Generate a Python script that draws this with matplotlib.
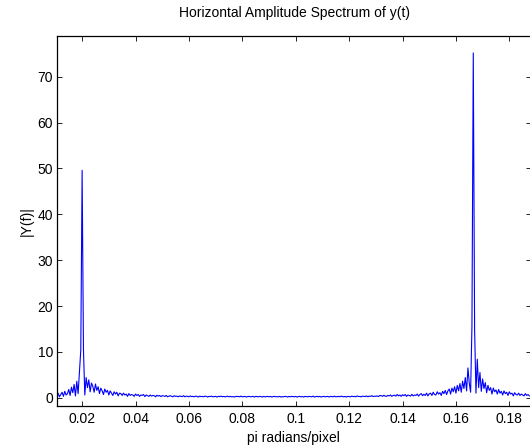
import numpy as np
import matplotlib
matplotlib.use('Agg')
import matplotlib.pyplot as plt

plt.rcParams['font.family'] = ['Liberation Sans', 'DejaVu Sans']

# frequency grid (pi radians/pixel), one sample every 0.0005
f_start = 0.0105
f_step = 0.0005

# |Y(f)|, 10 samples per row
amp = [
    0.4, 1.0, 0.2, 0.7, 1.2, 0.3, 1.4, 0.6, 0.9, 1.8,
    0.5, 2.3, 1.1, 2.9, 0.4, 3.6, 0.9, 5.6, 10.4, 49.6,
    10.5, 0.6, 4.4, 2.2, 3.9, 1.3, 3.2, 2.5, 1.2, 3.0,
    1.6, 2.4, 0.9, 2.1, 1.5, 0.7, 1.9, 1.2, 1.6, 0.6,
    1.5, 1.0, 0.5, 1.3, 0.8, 1.2, 0.4, 1.0, 0.9, 0.5,
    1.0, 0.6, 0.8, 0.3, 0.9, 0.5, 0.7, 0.6, 0.3, 0.8,
    0.5, 0.7, 0.3, 0.6, 0.5, 0.7, 0.25, 0.6, 0.45, 0.3,
    0.6, 0.35, 0.5, 0.45, 0.2, 0.55, 0.35, 0.5, 0.25, 0.45,
    0.4, 0.3, 0.5, 0.2, 0.35, 0.45, 0.3, 0.2, 0.45, 0.3,
    0.35, 0.2, 0.4, 0.3, 0.25, 0.45, 0.2, 0.35, 0.3, 0.2,
    0.4, 0.25, 0.3, 0.2, 0.35, 0.3, 0.15, 0.35, 0.25, 0.3,
    0.2, 0.35, 0.3, 0.15, 0.3, 0.25, 0.35, 0.2, 0.25, 0.3,
    0.15, 0.3, 0.25, 0.35, 0.2, 0.3, 0.2, 0.25, 0.35, 0.2,
    0.3, 0.2, 0.25, 0.15, 0.3, 0.25, 0.3, 0.2, 0.35, 0.2,
    0.25, 0.3, 0.15, 0.25, 0.3, 0.2, 0.25, 0.3, 0.15, 0.3,
    0.25, 0.2, 0.3, 0.25, 0.15, 0.3, 0.2, 0.25, 0.3, 0.2,
    0.3, 0.15, 0.25, 0.3, 0.2, 0.25, 0.2, 0.3, 0.15, 0.25,
    0.2, 0.3, 0.25, 0.15, 0.3, 0.2, 0.3, 0.25, 0.2, 0.3,
    0.15, 0.25, 0.3, 0.2, 0.25, 0.15, 0.3, 0.25, 0.2, 0.3,
    0.25, 0.2, 0.35, 0.15, 0.25, 0.3, 0.2, 0.3, 0.15, 0.25,
    0.3, 0.2, 0.25, 0.3, 0.15, 0.3, 0.25, 0.2, 0.35, 0.2,
    0.25, 0.3, 0.2, 0.35, 0.25, 0.2, 0.3, 0.15, 0.3, 0.25,
    0.2, 0.35, 0.25, 0.3, 0.2, 0.4, 0.25, 0.3, 0.2, 0.35,
    0.3, 0.25, 0.4, 0.2, 0.35, 0.3, 0.45, 0.25, 0.35, 0.3,
    0.4, 0.25, 0.5, 0.45, 0.3, 0.55, 0.35, 0.3, 0.5, 0.4,
    0.6, 0.3, 0.5, 0.55, 0.35, 0.7, 0.4, 0.6, 0.3, 0.65,
    0.45, 0.7, 0.3, 0.6, 0.5, 0.35, 0.75, 0.4, 0.6, 0.5,
    0.8, 0.35, 0.7, 0.9, 0.45, 0.75, 0.5, 1.0, 0.4, 0.85,
    1.0, 0.5, 1.2, 0.7, 0.6, 1.3, 0.8, 1.1, 0.5, 1.4,
    0.9, 1.6, 0.7, 1.5, 1.9, 0.8, 2.1, 1.3, 2.4, 1.0,
    2.7, 1.5, 3.1, 1.2, 3.6, 2.0, 4.4, 1.5, 6.5, 3.2,
    1.2, 15.6, 75.2, 14.8, 1.0, 8.4, 2.2, 5.5, 1.4, 4.1,
    2.0, 3.3, 1.1, 2.7, 1.6, 2.2, 0.8, 2.1, 1.3, 1.7,
    0.8, 1.8, 1.0, 1.4, 0.6, 1.5, 0.9, 1.2, 0.5, 1.3,
    0.8, 1.0, 0.4, 1.1, 0.7, 0.6, 1.0, 0.5, 0.8, 0.6,
    0.4, 0.9, 0.5, 0.7, 0.4,
]

xticks = [0.02, 0.04, 0.06, 0.08, 0.1, 0.12, 0.14, 0.16, 0.18]
xticklabels = ['0.02', '0.04', '0.06', '0.08', '0.1', '0.12', '0.14', '0.16', '0.18']
yticks = [0, 10, 20, 30, 40, 50, 60, 70]

freq = f_start + f_step * np.arange(len(amp))

fig = plt.figure(figsize=(5.3, 4.46), dpi=100)
# right edge of the axes sits just past the image border, as in the original
ax = fig.add_axes([0.1081, 0.0897, 0.8947, 0.8307])
ax.plot(freq, amp, color='#0000ff', lw=0.8)

ax.set_xlim(0.0107, 0.1883)
ax.set_ylim(-1.8, 79.0)
ax.set_xticks(xticks)
ax.set_xticklabels(xticklabels)
ax.set_yticks(yticks)

ax.tick_params(direction='in', length=3.6, width=0.6, top=True, right=True,
               labelsize=10, colors='black')
ax.tick_params(axis='x', pad=4.5)
ax.tick_params(axis='y', pad=3)
for s in ax.spines.values():
    s.set_linewidth(0.9)

ax.set_title('Horizontal Amplitude Spectrum of y(t)', fontsize=10, y=1.0378, va='center')
ax.set_xlabel('pi radians/pixel', fontsize=10)
ax.set_ylabel('|Y(f)|', fontsize=10)
ax.xaxis.set_label_coords(0.4985, -0.0877)
ax.xaxis.label.set_va('center')
ax.yaxis.set_label_coords(-0.0641, 0.5)
ax.yaxis.label.set_va('center')

fig.savefig('out.png', dpi=100)
